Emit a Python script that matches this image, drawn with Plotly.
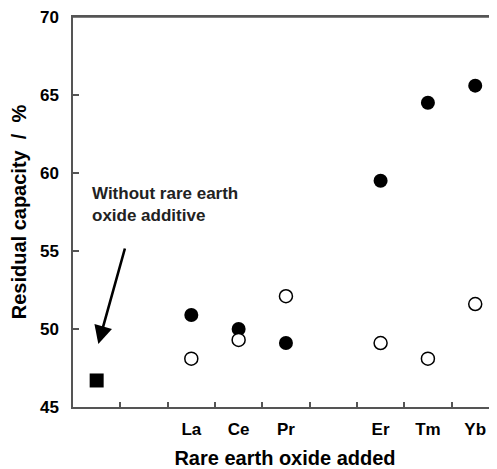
import plotly.graph_objects as go

# ---- data ----
slots = ["none", "gap1", "La", "Ce", "Pr", "gap2", "Er", "Tm", "Yb"]
slot_labels = ["", "", "La", "Ce", "Pr", "", "Er", "Tm", "Yb"]
oxides = ["La", "Ce", "Pr", "Er", "Tm", "Yb"]
filled_vals = [50.9, 50.0, 49.1, 59.5, 64.5, 65.6]
open_vals = [48.1, 49.3, 52.1, 49.1, 48.1, 51.6]
ref_cat = ["none"]
ref_val = [46.7]
y_ticks = [45, 50, 55, 60, 65, 70]

FONT = "Liberation Sans, Arial, Helvetica, sans-serif"
AX = "#555555"

fig = go.Figure()
fig.add_trace(go.Scatter(x=ref_cat, y=ref_val, mode="markers",
                         marker=dict(symbol="square", size=14, color="black"),
                         showlegend=False))
fig.add_trace(go.Scatter(x=oxides, y=filled_vals, mode="markers",
                         marker=dict(symbol="circle", size=14, color="black"),
                         showlegend=False))
fig.add_trace(go.Scatter(x=oxides, y=open_vals, mode="markers",
                         marker=dict(symbol="circle", size=13, color="white",
                                     line=dict(color="black", width=1.5)),
                         showlegend=False))

fig.add_annotation(x=0.035, y=49.04, xref="x", yref="y", ax=27, ay=-97,
                   axref="pixel", ayref="pixel", text="", showarrow=True,
                   arrowhead=2, arrowsize=1.4, arrowwidth=2.6, arrowcolor="black")
fig.add_annotation(x=-0.14, y=57.95, xref="x", yref="y", xanchor="left",
                   yanchor="middle", align="left", showarrow=False,
                   text="Without rare earth<br>oxide additive",
                   font=dict(family=FONT, size=17, color="#222", weight="bold"))

# top frame line of the plot box
fig.add_shape(type="line", xref="paper", yref="paper", x0=0, x1=1, y0=1, y1=1,
              line=dict(color=AX, width=1.5))

# page body has an 8px margin, so the figure is sized/offset to compensate
fig.update_layout(
    width=489, height=461,
    margin=dict(l=65, r=0, t=9, b=62, autoexpand=False),
    paper_bgcolor="white", plot_bgcolor="white",
    font=dict(family=FONT, color="black"),
    xaxis=dict(type="category", categoryorder="array", categoryarray=slots,
               tickvals=slots, ticktext=slot_labels, tickson="boundaries",
               range=[-0.5, 8.46], ticks="inside", ticklen=5, tickwidth=1.5,
               tickcolor=AX, showline=True, linecolor=AX, linewidth=1.5,
               mirror=True, showgrid=False, zeroline=False, automargin=False,
               ticklabelstandoff=6,
               tickfont=dict(family=FONT, size=17, color="black", weight="bold"),
               title=dict(text="Rare earth oxide added", standoff=14,
                          font=dict(family=FONT, size=20, color="black", weight="bold"))),
    yaxis=dict(range=[45, 70], tickvals=y_ticks, ticks="inside", ticklen=6,
               tickwidth=1.5, tickcolor=AX, showline=True, linecolor=AX,
               linewidth=1.5, showgrid=False, zeroline=False, automargin=False,
               ticklabelstandoff=9, ticklabeloverflow="allow",
               tickfont=dict(family=FONT, size=17, color="black", weight="bold"),
               title=dict(text="Residual capacity  /  %", standoff=10,
                          font=dict(family=FONT, size=20, color="black", weight="bold"))),
)

fig.write_html("out.html")
